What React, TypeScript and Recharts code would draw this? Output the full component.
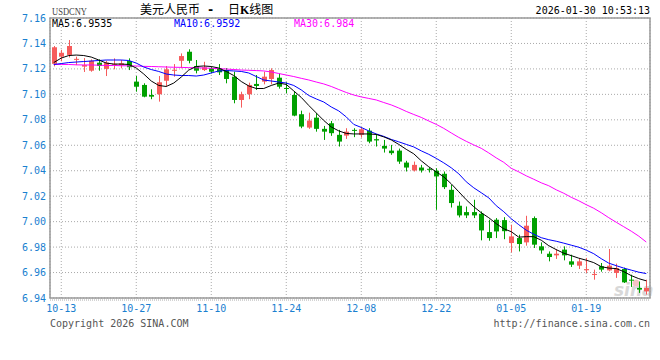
import { ComposedChart, Bar, Line, XAxis, YAxis, CartesianGrid, ReferenceArea } from "recharts";

// trading days shown on the daily chart
const dates = [
  "10-10", "10-13", "10-14", "10-15", "10-16", "10-17", "10-20", "10-21", "10-22", "10-23",
  "10-24", "10-27", "10-28", "10-29", "10-30", "10-31", "11-03", "11-04", "11-05", "11-06",
  "11-07", "11-10", "11-11", "11-12", "11-13", "11-14", "11-17", "11-18", "11-19", "11-20",
  "11-21", "11-24", "11-25", "11-26", "11-27", "11-28", "12-01", "12-02", "12-03", "12-04",
  "12-05", "12-08", "12-09", "12-10", "12-11", "12-12", "12-15", "12-16", "12-17", "12-18",
  "12-19", "12-22", "12-23", "12-24", "12-25", "12-26", "12-29", "12-30", "12-31", "01-01",
  "01-02", "01-05", "01-06", "01-07", "01-08", "01-09", "01-12", "01-13", "01-14", "01-15",
  "01-16", "01-19", "01-20", "01-21", "01-22", "01-23", "01-26", "01-27", "01-28", "01-29",
];

const opens = [
  7.124, 7.1296, 7.131, 7.1275, 7.1218, 7.1186, 7.1249, 7.12, 7.1236, 7.123,
  7.1262, 7.11, 7.1074, 7.0995, 7.1001, 7.1107, 7.1189, 7.1264, 7.1335, 7.1223,
  7.1191, 7.1205, 7.1205, 7.1191, 7.1139, 7.0956, 7.1001, 7.1082, 7.11, 7.1121,
  7.1131, 7.105, 7.0995, 7.0844, 7.0739, 7.0817, 7.0729, 7.0773, 7.0682, 7.0676,
  7.0721, 7.0682, 7.0715, 7.0648, 7.0595, 7.0558, 7.0558, 7.0464, 7.0402, 7.0425,
  7.0415, 7.04, 7.0376, 7.025, 7.0125, 7.0075, 7.0075, 7.0062, 6.9918, 7.0015,
  7.0012, 6.9832, 6.9871, 6.9837, 7.0028, 6.9806, 6.9748, 6.9735, 6.978, 6.9688,
  6.9654, 6.9618, 6.9582, 6.9649, 6.9617, 6.9597, 6.9628, 6.9544, 6.9479, 6.9452,
];
const closes = [
  7.137, 7.1327, 7.138, 7.1279, 7.123, 7.1264, 7.1223, 7.1249, 7.124, 7.1244,
  7.1213, 7.106, 7.0982, 7.0982, 7.1095, 7.1197, 7.1193, 7.1301, 7.1264, 7.1186,
  7.1213, 7.1178, 7.1173, 7.1121, 7.0956, 7.1001, 7.1074, 7.1066, 7.1139, 7.1191,
  7.106, 7.1046, 7.0833, 7.0747, 7.0794, 7.0729, 7.0707, 7.0695, 7.0629, 7.0707,
  7.0713, 7.0726, 7.0629, 7.0638, 7.0574, 7.0538, 7.0472, 7.0425, 7.0446, 7.0402,
  7.0411, 7.0355, 7.0271, 7.0146, 7.0049, 7.0049, 7.0049, 6.9931, 6.9871, 6.9923,
  6.9925, 6.9884, 6.9824, 6.9968, 6.9819, 6.9774, 6.9722, 6.9748, 6.9735, 6.9662,
  6.9688, 6.9627, 6.9589, 6.9623, 6.9654, 6.9636, 6.9523, 6.9538, 6.9466, 6.9479,
];
const highs = [
  7.138, 7.135, 7.1427, 7.1296, 7.1285, 7.1275, 7.1275, 7.1264, 7.1283, 7.127,
  7.1283, 7.1144, 7.1087, 7.104, 7.1144, 7.1223, 7.1238, 7.1322, 7.1354, 7.127,
  7.1256, 7.1217, 7.1238, 7.1207, 7.1178, 7.1021, 7.1092, 7.1152, 7.1178, 7.1205,
  7.1165, 7.1095, 7.1021, 7.0872, 7.0856, 7.0852, 7.0752, 7.0791, 7.0721, 7.0734,
  7.0734, 7.0742, 7.0734, 7.0689, 7.0642, 7.0603, 7.0574, 7.0478, 7.0472, 7.0446,
  7.0425, 7.042, 7.0394, 7.0289, 7.0158, 7.0119, 7.0172, 7.008, 7.0015, 7.0028,
  7.0035, 6.9976, 6.9897, 7.0046, 7.0041, 6.9837, 6.9766, 6.9785, 6.9806, 6.974,
  6.9714, 6.9715, 6.9623, 6.9675, 6.9785, 6.967, 6.9638, 6.9583, 6.953, 6.9544,
];
const lows = [
  7.122, 7.126, 7.129, 7.123, 7.1176, 7.1178, 7.1186, 7.1144, 7.1197, 7.1205,
  7.1191, 7.1021, 7.0977, 7.0962, 7.0943, 7.106, 7.1139, 7.1205, 7.1244, 7.1165,
  7.1184, 7.1165, 7.1152, 7.1087, 7.093, 7.0896, 7.0962, 7.1035, 7.1079, 7.1079,
  7.1045, 7.1009, 7.0828, 7.0734, 7.0729, 7.0707, 7.0642, 7.0674, 7.059, 7.065,
  7.0664, 7.066, 7.0616, 7.059, 7.0543, 7.0525, 7.0454, 7.0394, 7.0394, 7.0386,
  7.0386, 7.0093, 7.0256, 7.0111, 7.0033, 7.0028, 7.0028, 6.9853, 6.985, 6.9871,
  6.9862, 6.9758, 6.9766, 6.9811, 6.9793, 6.9748, 6.9688, 6.9707, 6.9696, 6.9644,
  6.9628, 6.9597, 6.9544, 6.9607, 6.961, 6.9558, 6.9518, 6.9487, 6.944, 6.9427,
];

const ma5 = [
  7.125, 7.1285, 7.1305, 7.1309, 7.1305, 7.1293, 7.127, 7.1246, 7.1238, 7.1238,
  7.1235, 7.1207, 7.116, 7.1105, 7.107, 7.1062, 7.1089, 7.1136, 7.1191, 7.1219,
  7.1223, 7.1219, 7.1207, 7.118, 7.1148, 7.1101, 7.1066, 7.1046, 7.1046, 7.107,
  7.1089, 7.1078, 7.1027, 7.0976, 7.0913, 7.0854, 7.0795, 7.0744, 7.0713, 7.0693,
  7.0689, 7.0689, 7.0689, 7.0685, 7.0666, 7.0642, 7.0607, 7.0568, 7.0533, 7.0478,
  7.0431, 7.0391, 7.0352, 7.0297, 7.0235, 7.0172, 7.0117, 7.007, 7.0031, 6.9984,
  6.9944, 6.9921, 6.9878, 6.9882, 6.9882, 6.9854, 6.9811, 6.978, 6.9752, 6.9733,
  6.9713, 6.9697, 6.9678, 6.9646, 6.9635, 6.9631, 6.9607, 6.9576, 6.9552, 6.9535,
];
const ma10 = [
  7.1235, 7.1242, 7.125, 7.1254, 7.1258, 7.1262, 7.1266, 7.127, 7.127, 7.127,
  7.1266, 7.1246, 7.1215, 7.1195, 7.118, 7.116, 7.1152, 7.1148, 7.1148, 7.1144,
  7.1152, 7.1168, 7.1184, 7.1187, 7.1184, 7.118, 7.1168, 7.114, 7.1113, 7.1105,
  7.1097, 7.1089, 7.107, 7.1035, 7.0991, 7.0964, 7.094, 7.0901, 7.087, 7.0823,
  7.0764, 7.074, 7.0713, 7.0689, 7.067, 7.0646, 7.0627, 7.0607, 7.0587, 7.0556,
  7.0529, 7.0497, 7.0462, 7.0423, 7.0376, 7.0313, 7.0266, 7.0227, 7.0187, 7.0125,
  7.0078, 7.0023, 6.9976, 6.9933, 6.9901, 6.9874, 6.9858, 6.9846, 6.9831, 6.9815,
  6.9799, 6.9776, 6.9748, 6.9709, 6.9674, 6.9654, 6.9635, 6.9619, 6.9603, 6.9592,
];
const ma30 = [
  7.1235, 7.1235, 7.1235, 7.1232, 7.1231, 7.1231, 7.1229, 7.1227, 7.1227, 7.1225,
  7.1224, 7.1223, 7.122, 7.1219, 7.1217, 7.1215, 7.1213, 7.1212, 7.121, 7.1209,
  7.1207, 7.1205, 7.1202, 7.1199, 7.1195, 7.1191, 7.1189, 7.1187, 7.1184, 7.1176,
  7.1164, 7.1152, 7.114, 7.1126, 7.1113, 7.1097, 7.1082, 7.1062, 7.1038, 7.1015,
  7.0995, 7.098, 7.0968, 7.0956, 7.0936, 7.0917, 7.0893, 7.0866, 7.0842, 7.0819,
  7.0791, 7.0764, 7.0733, 7.0697, 7.0662, 7.0631, 7.0603, 7.0576, 7.054, 7.0501,
  7.0466, 7.0419, 7.0391, 7.036, 7.0333, 7.0305, 7.0282, 7.025, 7.0223, 7.0191,
  7.0164, 7.0133, 7.0105, 7.007, 7.0031, 6.9995, 6.996, 6.9925, 6.9886, 6.984,
];

const yTicks = [6.94, 6.96, 6.98, 7.0, 7.02, 7.04, 7.06, 7.08, 7.1, 7.12, 7.14, 7.16];
const xTicks = ["10-13", "10-27", "11-10", "11-24", "12-08", "12-22", "01-05", "01-19"];

const UP = "#f65b5b";
const DOWN = "#00a000";
const AXIS_BLUE = "#1a80d0";
const MONO = "'DejaVu Sans Mono', 'Liberation Mono', monospace";

const data = dates.map((date, i) => ({
  date,
  open: opens[i],
  close: closes[i],
  high: highs[i],
  low: lows[i],
  ma5: ma5[i],
  ma10: ma10[i],
  ma30: ma30[i],
}));

function Candle(props: any) {
  const { x, y, width, height, payload } = props;
  const { open, close, high, low } = payload;
  const color = close >= open ? UP : DOWN;
  const k = height / (high - low);
  const py = (v: number) => y + (high - v) * k;
  const rx = Math.round(x);
  const rw = Math.round(width);
  const top = py(Math.max(open, close));
  const bh = Math.max(1, py(Math.min(open, close)) - top);
  return (
    <g>
      <rect x={rx + Math.floor(rw / 2)} y={y} width={1} height={Math.max(1, height)} fill={color} />
      <rect x={rx} y={top} width={rw} height={bh} fill={color} />
    </g>
  );
}

const fmt = (v: number) => String(Number(v.toFixed(4)));

export default function App() {
  const last = data.length - 1;
  return (
    <div style={{ position: "absolute", left: 0, top: 0, width: 660, height: 360, background: "#fff" }}>
      {/* faint watermark, under the chart */}
      <svg width={660} height={360} style={{ position: "absolute", left: 0, top: 0 }}>
        <text x={614} y={296} fontSize={17} fontStyle="italic" fontWeight="bold" fontFamily="'DejaVu Sans', sans-serif" fill="#d8d8d8">
          sina
        </text>
        <circle cx={636} cy={283} r={3.5} fill="#f4c4c4" />
      </svg>
      <ComposedChart
        width={660}
        height={360}
        data={data}
        margin={{ top: 18, right: 10, bottom: 32, left: 0 }}
        barCategoryGap="20%"
        style={{ position: "absolute", left: 0, top: 0 }}
      >
        <CartesianGrid stroke="#aaa" strokeDasharray="1 2" />
        <XAxis
          dataKey="date"
          ticks={xTicks}
          interval={0}
          height={30}
          tickLine={false}
          tickSize={0}
          tickMargin={7}
          axisLine={{ stroke: "#aaa", strokeDasharray: "1 1", transform: "translate(0,2)" }}
          tick={{ fill: AXIS_BLUE, fontSize: 10, fontFamily: MONO }}
        />
        <YAxis
          type="number"
          domain={[6.94, 7.16]}
          ticks={yTicks}
          interval={0}
          allowDataOverflow
          width={50}
          axisLine={false}
          tickLine={false}
          tickSize={0}
          tickMargin={4}
          tickFormatter={(v: number) => v.toFixed(2)}
          tick={{ fill: AXIS_BLUE, fontSize: 10, fontFamily: MONO }}
        />
        <Bar dataKey={(d: any) => [d.low, d.high]} shape={<Candle />} isAnimationActive={false} />
        <Line type="linear" dataKey="ma30" stroke="#ff00ff" strokeWidth={1} dot={false} isAnimationActive={false} />
        <Line type="linear" dataKey="ma10" stroke="#0000ff" strokeWidth={1} dot={false} isAnimationActive={false} />
        <Line type="linear" dataKey="ma5" stroke="#000000" strokeWidth={1} dot={false} isAnimationActive={false} />
        <ReferenceArea y1={6.94} y2={7.16} fill="none" stroke="#999" strokeWidth={1.5} />
      </ComposedChart>
      <svg width={660} height={360} style={{ position: "absolute", left: 0, top: 0, pointerEvents: "none" }}>
        <text x={52} y={15} fontSize={10} fontFamily="'Liberation Serif', serif" fill="#444" textLength={35} lengthAdjust="spacingAndGlyphs">
          USDCNY
        </text>
        <g fontFamily="'Noto Sans CJK SC', sans-serif" fontSize={12} fill="#000">
          <text x={140} y={14}>美元人民币</text>
          <text x={207} y={14} fontFamily={MONO} fontWeight="bold">-</text>
          <text x={228} y={14}>
            日<tspan fontWeight="bold" fontFamily="'Liberation Serif', serif">K</tspan>线图
          </text>
        </g>
        <text x={650} y={14} fontSize={10} fontFamily={MONO} textAnchor="end" fill="#000">
          2026-01-30 10:53:13
        </text>
        <g fontSize={10} fontFamily={MONO}>
          <text x={52} y={27} fill="#000">MA5:{fmt(ma5[last])}</text>
          <text x={174} y={27} fill="#0000ff">MA10:{fmt(ma10[last])}</text>
          <text x={294} y={27} fill="#ff00ff">MA30:{fmt(ma30[last])}</text>
        </g>
        <g fontSize={10} fontFamily={MONO} fill="#555">
          <text x={50} y={327}>Copyright 2026 SINA.COM</text>
          <text x={650} y={327} textAnchor="end">http://finance.sina.com.cn</text>
        </g>
      </svg>
    </div>
  );
}
